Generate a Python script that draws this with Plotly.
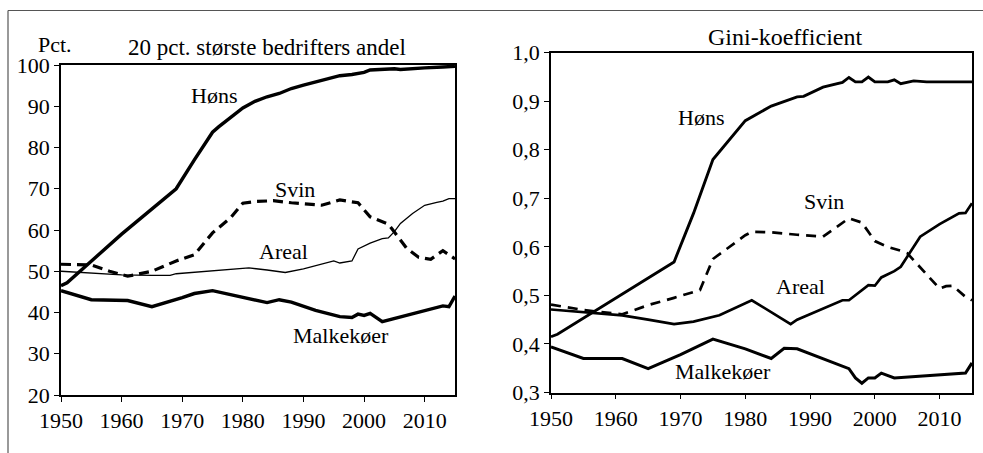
import plotly.graph_objects as go

# ---- data: 20 pct. største bedrifters andel (venstre)
hons_l_years = [1950, 1951, 1960, 1965, 1969, 1972, 1975, 1976, 1978, 1980, 1982, 1984, 1986, 1988,
                1990, 1992, 1994, 1996, 1998, 2000, 2001, 2003, 2005, 2006, 2008, 2010, 2013, 2015]
hons_l = [46.5, 47.2, 59.0, 65.0, 70.0, 77.0, 83.7, 85.0, 87.3, 89.6, 91.2, 92.3, 93.1, 94.3,
          95.1, 95.8, 96.7, 97.4, 97.7, 98.2, 98.8, 98.9, 99.1, 98.9, 99.2, 99.3, 99.5, 99.7]

svin_l_years = [1950, 1955, 1958, 1961, 1965, 1969, 1972, 1975, 1978, 1980, 1982, 1985, 1988, 1990,
                1993, 1996, 1999, 2001, 2004, 2005, 2007, 2009, 2011, 2013, 2015]
svin_l = [51.7, 51.5, 50.0, 48.8, 50.0, 52.5, 54.0, 59.3, 63.0, 66.5, 66.9, 67.1, 66.6, 66.3,
          66.0, 67.3, 66.6, 63.2, 61.4, 59.5, 55.6, 53.4, 52.9, 55.0, 53.0]

areal_l_years = [1950, 1955, 1960, 1965, 1968, 1969, 1975, 1981, 1984, 1987, 1990, 1995, 1996, 1998,
                 1999, 2001, 2003, 2004, 2005, 2006, 2008, 2010, 2012, 2013, 2014, 2015]
areal_l = [50.0, 49.6, 49.1, 49.0, 49.0, 49.4, 50.1, 50.8, 50.3, 49.7, 50.6, 52.5, 52.0, 52.5,
           55.4, 56.8, 57.9, 58.1, 59.6, 61.6, 64.0, 66.0, 66.7, 67.0, 67.6, 67.6]

malk_l_years = [1950, 1955, 1961, 1965, 1970, 1972, 1975, 1980, 1984, 1986, 1988, 1992, 1996, 1998,
                1999, 2000, 2001, 2003, 2010, 2013, 2014, 2015]
malk_l = [45.3, 43.1, 42.9, 41.4, 43.6, 44.6, 45.3, 43.7, 42.4, 43.1, 42.5, 40.5, 39.0, 38.8,
          39.6, 39.3, 39.8, 37.8, 40.4, 41.6, 41.4, 44.0]

# ---- data: Gini-koefficient (høyre)
hons_r_years = [1950, 1951, 1969, 1972, 1975, 1980, 1984, 1988, 1989, 1992, 1995, 1996, 1997, 1998,
                1999, 2000, 2002, 2003, 2004, 2006, 2008, 2015]
hons_r = [0.415, 0.42, 0.569, 0.669, 0.78, 0.86, 0.89, 0.909, 0.91, 0.929, 0.939, 0.949, 0.94, 0.94,
          0.95, 0.94, 0.94, 0.944, 0.936, 0.942, 0.94, 0.94]

svin_r_years = [1950, 1955, 1961, 1965, 1969, 1973, 1975, 1977, 1980, 1981, 1984, 1988, 1992, 1996,
                1998, 2000, 2002, 2004, 2005, 2010, 2011, 2012, 2014, 2015]
svin_r = [0.481, 0.47, 0.461, 0.48, 0.495, 0.511, 0.575, 0.595, 0.624, 0.631, 0.63, 0.625, 0.621, 0.659,
          0.65, 0.612, 0.60, 0.592, 0.587, 0.514, 0.519, 0.52, 0.497, 0.49]

areal_r_years = [1950, 1955, 1961, 1965, 1969, 1972, 1976, 1981, 1987, 1988, 1995, 1996, 1999, 2000,
                 2001, 2003, 2004, 2007, 2010, 2013, 2014, 2015]
areal_r = [0.471, 0.466, 0.459, 0.45, 0.441, 0.446, 0.459, 0.49, 0.441, 0.45, 0.49, 0.49, 0.521, 0.52,
           0.537, 0.55, 0.559, 0.621, 0.647, 0.669, 0.67, 0.69]

malk_r_years = [1950, 1955, 1961, 1965, 1970, 1975, 1980, 1984, 1986, 1988, 1996, 1997, 1998, 1999,
                2000, 2001, 2003, 2014, 2015]
malk_r = [0.394, 0.37, 0.37, 0.349, 0.378, 0.41, 0.39, 0.37, 0.391, 0.39, 0.349, 0.33, 0.319, 0.33,
          0.33, 0.34, 0.33, 0.34, 0.361]

# labels
left_title = "20 pct. største bedrifters andel"
right_title = "Gini-koefficient"
left_ylabel = "Pct."
left_yticks = [20, 30, 40, 50, 60, 70, 80, 90, 100]
right_yticks = [0.3, 0.4, 0.5, 0.6, 0.7, 0.8, 0.9, 1.0]
right_yticktext = ["0,3", "0,4", "0,5", "0,6", "0,7", "0,8", "0,9", "1,0"]
xticks = [1950, 1960, 1970, 1980, 1990, 2000, 2010]

# series names and label positions (data coords)
left_labels = [("Høns", 1975.2, 92.7), ("Svin", 1988.6, 69.9),
               ("Areal", 1986.7, 54.7), ("Malkekøer", 1996.2, 34.5)]
right_labels = [("Høns", 1973.1, 0.867), ("Svin", 1992.2, 0.693),
                ("Areal", 1988.5, 0.519), ("Malkekøer", 1976.5, 0.343)]

FONT = "Liberation Serif"
W, H = 983, 453

fig = go.Figure()

def add(x, y, xa, ya, width, dash="solid"):
    fig.add_trace(go.Scatter(x=x, y=y, xaxis=xa, yaxis=ya, mode="lines",
                             line=dict(color="black", width=width, dash=dash),
                             showlegend=False, hoverinfo="skip"))

add(areal_l_years, areal_l, "x", "y", 1.3)
add(svin_l_years, svin_l, "x", "y", 3.2, "10px,6px")
add(malk_l_years, malk_l, "x", "y", 3.4)
add(hons_l_years, hons_l, "x", "y", 3.4)

add(areal_r_years, areal_r, "x2", "y2", 2.7)
add(svin_r_years, svin_r, "x2", "y2", 2.7, "10px,7px")
add(malk_r_years, malk_r, "x2", "y2", 3)
add(hons_r_years, hons_r, "x2", "y2", 2.9)

axis_style = dict(showline=True, linecolor="black", linewidth=1.5, mirror=True,
                  ticks="outside", ticklen=5, tickcolor="black", tickwidth=1,
                  showgrid=False, zeroline=False, automargin=False,
                  tickfont=dict(family=FONT, size=22, color="black"))

fig.update_layout(
    template="none",
    width=W, height=H,
    margin=dict(l=0, r=0, t=0, b=0),
    paper_bgcolor="white", plot_bgcolor="white",
    font=dict(family=FONT, color="black"),
    xaxis=dict(domain=[61 / W, 455 / W], range=[1950, 2015], tickvals=xticks, anchor="y", **axis_style),
    yaxis=dict(domain=[1 - 395 / H, 1 - 65 / H], range=[20, 100], tickvals=left_yticks, anchor="x", **axis_style),
    xaxis2=dict(domain=[551 / W, 972 / W], range=[1950, 2015], tickvals=xticks, anchor="y2", **axis_style),
    yaxis2=dict(domain=[1 - 392.5 / H, 1 - 52.7 / H], range=[0.3, 1.0], tickvals=right_yticks,
                ticktext=right_yticktext, anchor="x2", **axis_style),
)

for name, xv, yv in left_labels:
    fig.add_annotation(x=xv, y=yv, xref="x", yref="y", text=name, showarrow=False,
                       xanchor="center", yanchor="middle",
                       font=dict(family=FONT, size=22, color="black"))
for name, xv, yv in right_labels:
    fig.add_annotation(x=xv, y=yv, xref="x2", yref="y2", text=name, showarrow=False,
                       xanchor="center", yanchor="middle",
                       font=dict(family=FONT, size=22, color="black"))

# titles
for txt, px, py, sz in [(left_title, 267, 48, 23), (left_ylabel, 55, 45, 22), (right_title, 785, 37, 24)]:
    fig.add_annotation(x=px / W, y=1 - py / H, xref="paper", yref="paper", text=txt,
                       xanchor="center", yanchor="middle", showarrow=False,
                       font=dict(family=FONT, size=sz, color="black"))

# outer frame (top and left only)
fig.add_shape(type="line", xref="paper", yref="paper", x0=8 / W, x1=1, y0=1 - 10.5 / H, y1=1 - 10.5 / H,
              line=dict(color="#555555", width=1.2))
fig.add_shape(type="line", xref="paper", yref="paper", x0=8 / W, x1=8 / W, y0=0, y1=1 - 10.5 / H,
              line=dict(color="#555555", width=1.2))

# drop the default page margin so the figure sits at the window's corner
fig.write_html("out.html", config={"displayModeBar": False},
               post_script="document.body.style.margin='0';document.body.style.overflow='hidden';")
